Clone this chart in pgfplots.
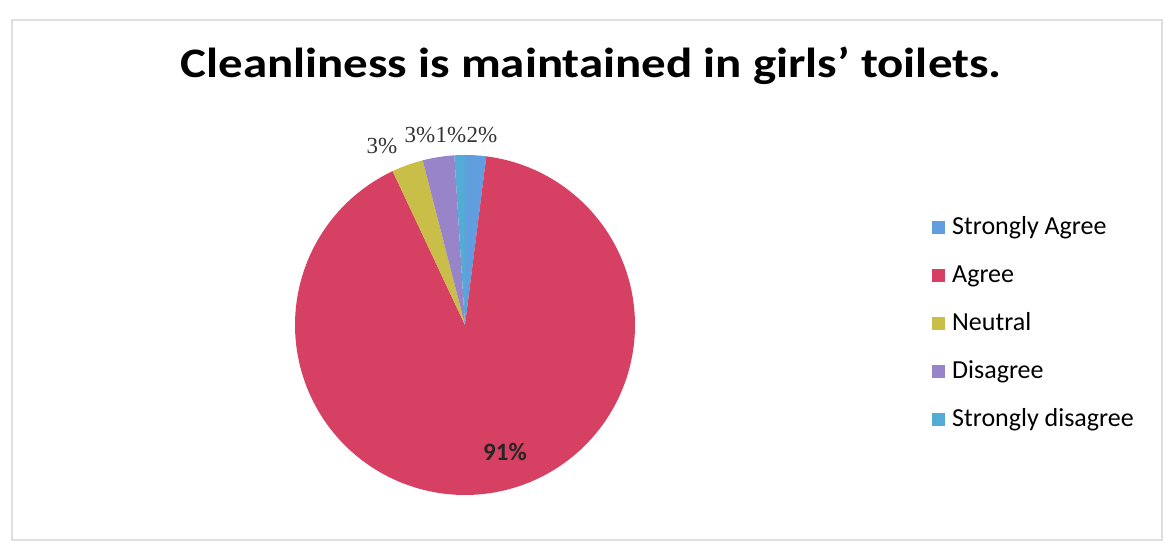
\documentclass[border=0pt]{standalone}
\usepackage{pgfplots}
\pgfplotsset{compat=1.18}
\usepackage{fontspec}
\setmainfont{Carlito}
\newfontfamily\labfont{Liberation Serif}
\definecolor{cSA}{RGB}{96,158,224}
\definecolor{cA}{RGB}{214,64,98}
\definecolor{cN}{RGB}{200,190,72}
\definecolor{cD}{RGB}{152,132,200}
\definecolor{cSD}{RGB}{84,172,214}
% values (percent): Strongly Agree 2, Agree 91, Neutral 3, Disagree 3, Strongly disagree 1
\def\cx{465}\def\cy{226}\def\R{170}
\begin{document}
\begin{tikzpicture}
\begin{axis}[
  scale only axis, width=1165bp, height=551bp,
  xmin=0, xmax=1165, ymin=0, ymax=551,
  hide axis, clip=false,
  legend cell align=left,
  legend image code/.code={\fill[#1,draw=none] (0bp,-6.5bp) rectangle (13bp,6.5bp);\path[draw=none,fill=none] (13bp,0) -- (19bp,0);},
  legend style={draw=none, fill=none, at={(axis cs:929,339)}, anchor=north west,
    font=\fontsize{26bp}{30bp}\selectfont, row sep=21bp,
    nodes={inner sep=1bp, text height=19bp, text depth=6bp}},
]
\path (axis cs:0,0) rectangle (axis cs:1165,551);
\draw[gray!25, line width=1.2bp] (axis cs:12,11) rectangle (axis cs:1162,531);
% slices, clockwise from 12 o'clock, cumulative percent on the domain
\addplot[fill=cSA, draw=none, domain=0:2, samples=10, forget plot]
  ({\cx+\R*cos(90-3.6*x)},{\cy+\R*sin(90-3.6*x)}) -- (axis cs:\cx,\cy) -- cycle;
\addplot[fill=cA, draw=none, domain=2:93, samples=180, forget plot]
  ({\cx+\R*cos(90-3.6*x)},{\cy+\R*sin(90-3.6*x)}) -- (axis cs:\cx,\cy) -- cycle;
\addplot[fill=cN, draw=none, domain=93:96, samples=10, forget plot]
  ({\cx+\R*cos(90-3.6*x)},{\cy+\R*sin(90-3.6*x)}) -- (axis cs:\cx,\cy) -- cycle;
\addplot[fill=cD, draw=none, domain=96:99, samples=10, forget plot]
  ({\cx+\R*cos(90-3.6*x)},{\cy+\R*sin(90-3.6*x)}) -- (axis cs:\cx,\cy) -- cycle;
\addplot[fill=cSD, draw=none, domain=99:100, samples=6, forget plot]
  ({\cx+\R*cos(90-3.6*x)},{\cy+\R*sin(90-3.6*x)}) -- (axis cs:\cx,\cy) -- cycle;
\addlegendimage{cSA}\addlegendentry{Strongly Agree}
\addlegendimage{cA}\addlegendentry{Agree}
\addlegendimage{cN}\addlegendentry{Neutral}
\addlegendimage{cD}\addlegendentry{Disagree}
\addlegendimage{cSD}\addlegendentry{Strongly disagree}
% data labels
\node[font=\labfont\fontsize{23bp}{26bp}\selectfont, text=black!80, inner sep=0pt] at (axis cs:382,405) {3\%};
\node[font=\labfont\fontsize{23bp}{26bp}\selectfont, text=black!80, inner sep=0pt] at (axis cs:420,416) {3\%};
\node[font=\labfont\fontsize{23bp}{26bp}\selectfont, text=black!80, inner sep=0pt] at (axis cs:451,416) {1\%};
\node[font=\labfont\fontsize{23bp}{26bp}\selectfont, text=black!80, inner sep=0pt] at (axis cs:482,416) {2\%};
\node[font=\bfseries\fontsize{25bp}{28bp}\selectfont, text=black!85, inner sep=0pt] at (axis cs:505,99) {91\%};
% title
\node[font=\bfseries\fontsize{42bp}{48bp}\selectfont, anchor=base, inner sep=0pt] at (axis cs:591,473) {\scalebox{1.165}[1]{Cleanliness is maintained in girls’ toilets.}};
\end{axis}
\end{tikzpicture}
\end{document}
